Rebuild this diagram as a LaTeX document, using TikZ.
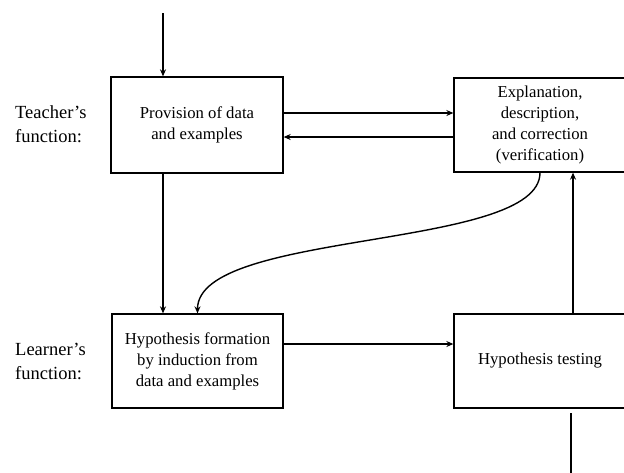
\documentclass[tikz,border=0pt]{standalone}
\usepackage{fontspec}
\setmainfont{Liberation Serif}
\usetikzlibrary{arrows.meta,calc}
\begin{document}
\begin{tikzpicture}[x=1pt,y=-1pt,
 box/.style={draw, line width=1.3pt, inner sep=0pt, align=center, font=\fontsize{16.7}{21}\selectfont},
 arr/.style={line width=1.4pt, -{Stealth[length=7pt,width=6pt]}},
 side/.style={align=left, anchor=north west, inner sep=0pt, font=\fontsize{18.5}{24}\selectfont}]
\useasboundingbox (0,0) rectangle (624,472);
\clip (0,0) rectangle (624,472);
\node[box, minimum width=172pt, minimum height=96pt] (A) at (197,125) {Provision of data\\and examples};
\node[box, minimum width=172pt, minimum height=94pt] (B) at (540,125) {Explanation,\\description,\\and correction\\(verification)};
\node[box, minimum width=171pt, minimum height=94pt] (C) at (197.5,361) {Hypothesis formation\\by induction from\\data and examples};
\node[box, minimum width=172pt, minimum height=94pt] (D) at (540,361) {Hypothesis testing};
\node[side] (T) at (15,105) {Teacher’s\\function:};
\node[side] (L) at (15,343) {Learner’s\\function:};
\coordinate (top) at (163,13);
\coordinate (up) at (573,0);
\coordinate (bend) at (571,476);
\coordinate (bstart) at (571,413);
\draw[arr] (top) -- (top |- A.north);
\draw[arr] ($(A.east)+(0,-12)$) -- ($(B.west)+(0,-12)$);
\draw[arr] ($(B.west)+(0,12)$) -- ($(A.east)+(0,12)$);
\draw[arr] (A.south -| top) -- (C.north -| top);
\draw[arr] (B.south) .. controls +(0,78) and +(0,-84) .. (C.north);
\draw[arr] ($(C.east)+(0,-17)$) -- ($(D.west)+(0,-17)$);
\draw[arr] (D.north -| up) -- (B.south -| up);
\draw[line width=1.3pt] (bend) -- (bstart);
\end{tikzpicture}
\end{document}
